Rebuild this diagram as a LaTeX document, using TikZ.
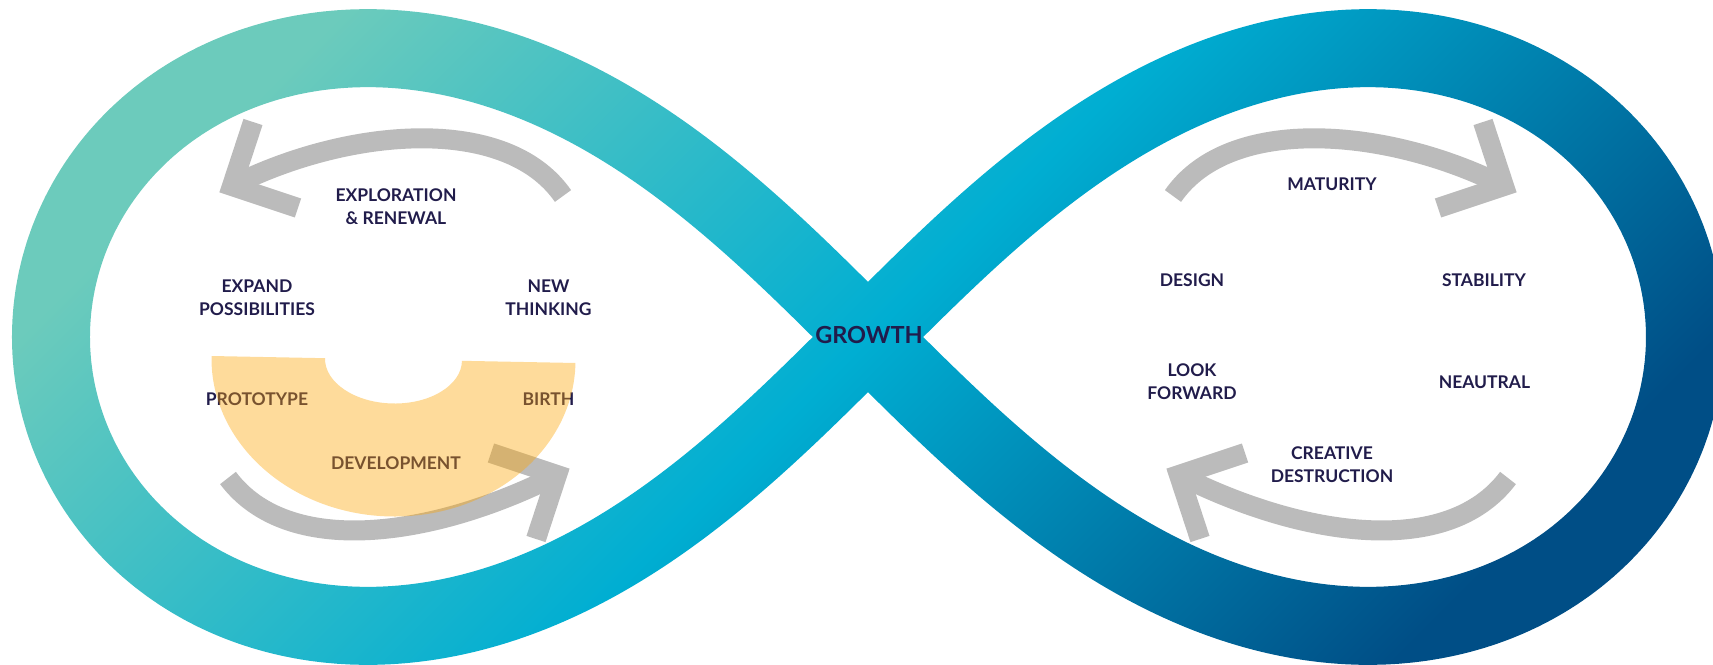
\documentclass[tikz,border=0pt]{standalone}
\usepackage{fontspec}
\setmainfont{Lato}
\usetikzlibrary{fadings}
\definecolor{bandA}{RGB}{108,203,188}
\definecolor{bandB}{RGB}{0,174,210}
\definecolor{bandC}{RGB}{0,78,134}
\definecolor{arrowgray}{RGB}{187,187,187}
\definecolor{labelnavy}{RGB}{33,28,75}
\definecolor{ochre}{RGB}{252,165,5}
\pgfdeclarehorizontalshading{bandshade}{100bp}{color(0bp)=(bandA); color(25bp)=(bandA); color(50bp)=(bandB); color(75bp)=(bandC); color(100bp)=(bandC)}
\begin{tikzfadingfrompicture}[name=bandfade, x=1pt, y=1pt]
  \path (-900,-400) rectangle (900,400);
  \draw[transparent!0, line width=78pt, line join=round]
    plot[domain=0:360, samples=721, variable=\t]
    ({817*cos(\t)/(1+sin(\t)^2)}, {817*sin(\t)*cos(\t)/(1+sin(\t)^2)}) -- cycle;
\end{tikzfadingfrompicture}
\tikzset{
  lbl/.style={font=\fontsize{17.5}{23}\selectfont\bfseries, text=labelnavy, align=center, inner sep=0pt},
  growthlbl/.style={font=\fontsize{23.5}{28}\selectfont\bfseries, text=labelnavy, inner sep=0pt},
  grayshaft/.style={draw=arrowgray, line width=20pt},
  grayhead/.style={draw=arrowgray, line width=20pt, line join=miter},
}
\newcommand{\lobearrows}{%
  \draw[grayshaft] (563,196) .. controls (506,114) and (348,127.5) .. (232,186);
  \draw[grayhead] (253,122) -- (232,186) -- (298,208);
  \draw[grayshaft] (228,478) .. controls (288,558) and (432,538) .. (557,475);
  \draw[grayhead] (536,539) -- (557,475) -- (491,453);
}
\begin{document}
\begin{tikzpicture}[x=1pt, y=-1pt]
  \useasboundingbox (-868,-337) rectangle (845,327);
  \shade[path fading=bandfade, fit fading=false, shading=bandshade, shading angle=-45]
    (-870,-340) rectangle (870,340);
  \begin{scope}[shift={(-868,-337)}]
    \lobearrows
    \begin{scope}[shift={(1736,0)}, xscale=-1]
      \lobearrows
    \end{scope}
    \node[lbl] (explore) at (396,207) {EXPLORATION\\\& RENEWAL};
    \node[lbl] (expand) at (257,298) {EXPAND\\POSSIBILITIES};
    \node[lbl] (newthink) at (548.5,298) {NEW\\THINKING};
    \node[lbl] (proto) at (257,399.5) {PROTOTYPE};
    \node[lbl] (birth) at (548.5,399.5) {BIRTH};
    \node[lbl] (develop) at (396,463) {DEVELOPMENT};
    \node[lbl] (maturity) at (1332,184) {MATURITY};
    \node[lbl] (design) at (1192,280.5) {DESIGN};
    \node[lbl] (stability) at (1484,280.5) {STABILITY};
    \node[lbl] (lookfwd) at (1192,382) {LOOK\\FORWARD};
    \node[lbl] (neutral) at (1484.5,382.5) {NEAUTRAL};
    \node[lbl] (creative) at (1332,465) {CREATIVE\\DESTRUCTION};
    \node[growthlbl] (growth) at (869,335.5) {GROWTH};
    \begin{scope}[shift={(393.5,359.5)}, rotate=-1.1]
      \fill[ochre, fill opacity=0.4] (-182,0)
        arc[start angle=180, end angle=0, x radius=182, y radius=157]
        -- (68.5,0)
        arc[start angle=0, end angle=180, x radius=68.5, y radius=44] -- cycle;
    \end{scope}
  \end{scope}
\end{tikzpicture}
\end{document}
